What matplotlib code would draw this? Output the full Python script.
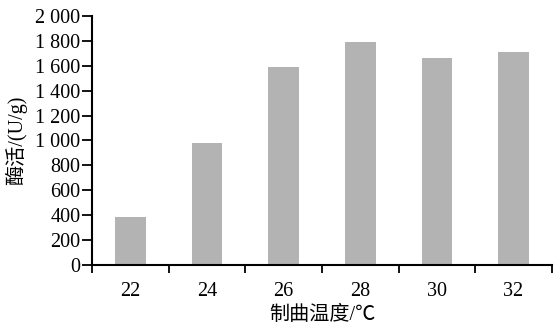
import matplotlib
matplotlib.use("Agg")
import matplotlib.pyplot as plt
import numpy as np

# data
temps = ['22', '24', '26', '28', '30', '32']
activity = [385, 978, 1592, 1789, 1660, 1708]
yticks = [0, 200, 400, 600, 800, 1000, 1200, 1400, 1600, 1800, 2000]
ytick_labels = ['0', '200', '400', '600', '800', '1 000', '1 200', '1 400', '1 600', '1 800', '2 000']

plt.rcParams['font.family'] = ['Liberation Serif', 'Noto Sans CJK SC']
plt.rcParams['font.size'] = 14.5

fig = plt.figure(figsize=(5.58, 3.27), dpi=100)
ax = fig.add_axes([0.165, 0.19, 0.824, 0.761])

x = np.arange(len(temps))
ax.bar(x, activity, width=0.4, color='#b3b3b3')

ax.set_xlim(-0.5, len(temps) - 0.5)
ax.set_ylim(0, 2000)

# category labels centred, tick marks on the boundaries
ax.set_xticks(x)
ax.set_xticklabels(temps)
ax.tick_params(axis='x', which='major', length=0, pad=12)
ax.set_xticks(np.arange(-0.5, len(temps)), minor=True)
ax.tick_params(axis='x', which='minor', length=6, width=1.3, direction='out')

ax.set_yticks(yticks)
ax.set_yticklabels(ytick_labels)
ax.tick_params(axis='y', length=7, width=1.3, direction='out', pad=1.5)

for side in ['top', 'right']:
    ax.spines[side].set_visible(False)
for side in ['left', 'bottom']:
    ax.spines[side].set_linewidth(1.5)

ax.set_xlabel('制曲温度/℃', labelpad=4)
ax.set_ylabel('酶活/(U/g)', labelpad=6)

fig.savefig('out.png', dpi=100)
